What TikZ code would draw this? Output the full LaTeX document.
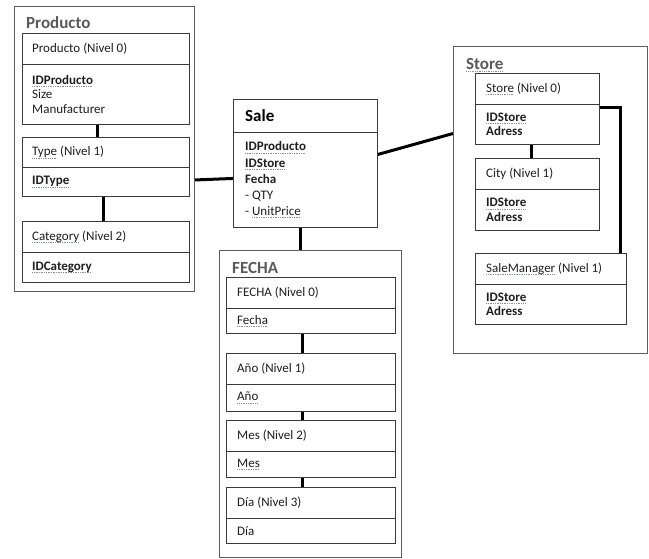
\documentclass[tikz,border=0pt]{standalone}
\usepackage{fontspec}
\setmainfont{Carlito}
\definecolor{sqc}{HTML}{8A8FA0}
\definecolor{framec}{HTML}{5E5E5E}
\definecolor{boxc}{HTML}{3A3A3A}
\definecolor{titlec}{HTML}{5A5A5A}
\definecolor{txt}{HTML}{1E1E1E}
% dotted proofing underline under a word
\newsavebox\sqword
\newcommand\sq[1]{\sbox\sqword{#1}%
  \rlap{\textcolor{sqc}{\raisebox{-2.6pt}{\hbox to \wd\sqword{\xleaders\hbox to 1.7pt{\rule{0.9pt}{0.9pt}\hss}\hfill}}}}%
  \usebox\sqword}
\tikzset{
  frame/.style={draw=framec, line width=1pt, anchor=north west, inner sep=0pt},
  part/.style={draw=boxc, line width=0.9pt, anchor=north west, inner sep=0pt},
  lbl/.style={anchor=west, align=left, inner sep=0pt, text=txt,
    font=\fontsize{13}{14.6}\selectfont},
  grptitle/.style={anchor=base west, inner sep=0pt, text=titlec,
    font=\fontsize{17}{20}\selectfont\bfseries},
  link/.style={draw=black, line width=3pt}
}
\begin{document}
\begin{tikzpicture}[x=1pt, y=-1pt]
\useasboundingbox (0,0) rectangle (649,558);

% ---------- Producto dimension ----------
\node[frame, minimum width=180, minimum height=285] (prodO) at (14,6) {};
\node[grptitle] (prodT) at (26,28) {Producto};
\node[part, minimum width=167, minimum height=31] (p0h) at (22,33) {};
\node[part, minimum width=167, minimum height=60] (p0b) at (22,64) {};
\node[lbl] (p0hl) at ([xshift=10pt]p0h.west) {Producto (Nivel 0)};
\node[lbl] (p0bl) at ([xshift=10pt]p0b.west) {\textbf{\sq{IDProducto}}\\Size\\Manufacturer};
\node[part, minimum width=167, minimum height=30] (tyh) at (22,137) {};
\node[part, minimum width=167, minimum height=29] (tyb) at (22,167) {};
\node[lbl] (tyhl) at ([xshift=10pt]tyh.west) {\sq{Type} (Nivel 1)};
\node[lbl] (tybl) at ([xshift=10pt]tyb.west) {\textbf{\sq{IDType}}};
\node[part, minimum width=167, minimum height=31] (cah) at (22,221) {};
\node[part, minimum width=167, minimum height=30] (cab) at (22,252) {};
\node[lbl] (cahl) at ([xshift=10pt]cah.west) {\sq{Category} (Nivel 2)};
\node[lbl] (cabl) at ([xshift=10pt]cab.west) {\textbf{\sq{IDCategory}}};
\draw[link] ([xshift=-8.5pt]p0b.south) -- ([xshift=-8.5pt]tyh.north);
\draw[link] ([xshift=-2.5pt]tyb.south) -- ([xshift=-2.5pt]cah.north);

% ---------- Sale fact ----------
\node[part, minimum width=144, minimum height=33] (sah) at (233,99) {};
\node[part, minimum width=144, minimum height=95] (sab) at (233,132) {};
\node[anchor=west, inner sep=0pt, text=black, font=\fontsize{17}{20}\selectfont\bfseries]
  (sahl) at ([xshift=12pt]sah.west) {Sale};
\node[lbl, font=\fontsize{13}{16.2}\selectfont] (sabl) at ([xshift=12pt]sab.west)
  {\textbf{\sq{IDProducto}}\\\textbf{\sq{IDStore}}\\\textbf{Fecha}\\- QTY\\- \sq{UnitPrice}};

% ---------- Store dimension ----------
\node[frame, minimum width=194, minimum height=307] (stO) at (453,46) {};
\node[grptitle] (stT) at (466,69) {\sq{Store}};
\node[part, minimum width=124, minimum height=31] (sth) at (475,73) {};
\node[part, minimum width=124, minimum height=40] (stb) at (475,104) {};
\node[lbl] (sthl) at ([xshift=11pt]sth.west) {\sq{Store} (Nivel 0)};
\node[lbl] (stbl) at ([xshift=11pt]stb.west) {\textbf{\sq{IDStore}}\\\textbf{Adress}};
\node[part, minimum width=124, minimum height=31] (cih) at (475,158) {};
\node[part, minimum width=124, minimum height=41] (cib) at (475,189) {};
\node[lbl] (cihl) at ([xshift=11pt]cih.west) {City (Nivel 1)};
\node[lbl] (cibl) at ([xshift=11pt]cib.west) {\textbf{\sq{IDStore}}\\\textbf{Adress}};
\node[part, minimum width=151, minimum height=31] (smh) at (475,253) {};
\node[part, minimum width=151, minimum height=40] (smb) at (475,284) {};
\node[lbl] (smhl) at ([xshift=11pt]smh.west) {\sq{SaleManager} (Nivel 1)};
\node[lbl] (smbl) at ([xshift=11pt]smb.west) {\textbf{\sq{IDStore}}\\\textbf{Adress}};
\draw[link] ([xshift=-6pt]stb.south) -- ([xshift=-6pt]cih.north);
\draw[link] ([yshift=-3pt]stb.north east) -| ([xshift=69.5pt]smh.north);

% ---------- FECHA dimension ----------
\node[frame, minimum width=182, minimum height=307] (feO) at (219,250) {};
\node[grptitle] (feT) at (232,273) {FECHA};
\node[part, minimum width=169, minimum height=31] (f0h) at (226,277) {};
\node[part, minimum width=169, minimum height=25] (f0b) at (226,308) {};
\node[lbl] (f0hl) at ([xshift=11pt]f0h.west) {FECHA (Nivel 0)};
\node[lbl] (f0bl) at ([xshift=11pt]f0b.west) {\sq{Fecha}};
\node[part, minimum width=169, minimum height=31] (anh) at (226,353) {};
\node[part, minimum width=169, minimum height=27] (anb) at (226,384) {};
\node[lbl] (anhl) at ([xshift=11pt]anh.west) {Año (Nivel 1)};
\node[lbl] (anbl) at ([xshift=11pt]anb.west) {\sq{Año}};
\node[part, minimum width=169, minimum height=31] (meh) at (226,420) {};
\node[part, minimum width=169, minimum height=26] (meb) at (226,451) {};
\node[lbl] (mehl) at ([xshift=11pt]meh.west) {Mes (Nivel 2)};
\node[lbl] (mebl) at ([xshift=11pt]meb.west) {\sq{Mes}};
\node[part, minimum width=169, minimum height=31] (dih) at (226,487) {};
\node[part, minimum width=169, minimum height=25] (dib) at (226,518) {};
\node[lbl] (dihl) at ([xshift=11pt]dih.west) {Día (Nivel 3)};
\node[lbl] (dibl) at ([xshift=11pt]dib.west) {Día};
\draw[link] ([xshift=-8.5pt]f0b.south) -- ([xshift=-8.5pt]anh.north);
\draw[link] ([xshift=-8.5pt]anb.south) -- ([xshift=-8.5pt]meh.north);
\draw[link] ([xshift=-8.5pt]meb.south) -- ([xshift=-8.5pt]dih.north);

% ---------- links between the fact and the dimensions ----------
\draw[link] (sab.west -| prodO.east) -- ([yshift=1.5pt]sab.west);
\draw[link] ([xshift=-5pt]sab.south) -- ([xshift=-5pt]sab.south |- feO.north);
\draw[link] ([yshift=25.5pt]sab.east) -- ([yshift=66.5pt]stO.west);
\end{tikzpicture}
\end{document}
